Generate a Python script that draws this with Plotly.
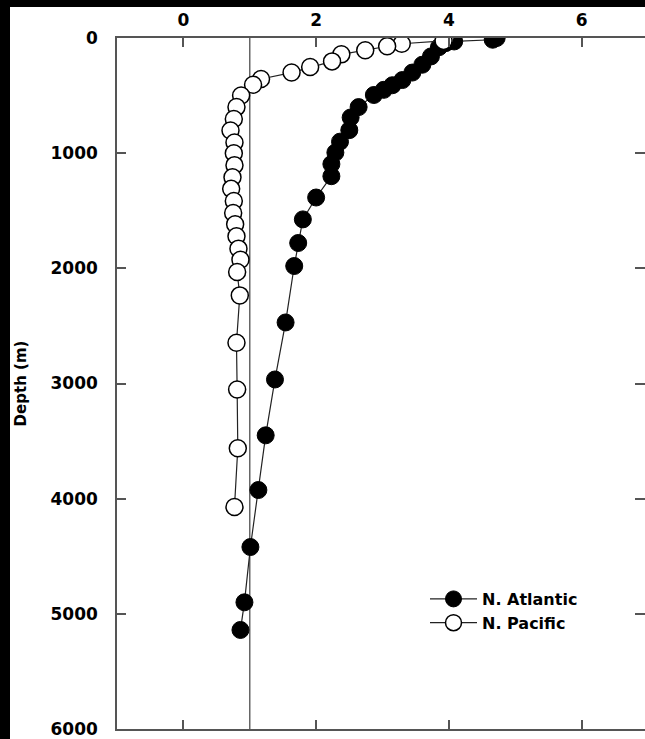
import plotly.graph_objects as go

# N. Atlantic (filled circles)
atl_x = [4.72, 4.66, 4.08, 3.95, 3.85, 3.73, 3.60, 3.45, 3.30, 3.15, 3.02, 2.87,
         2.64, 2.52, 2.50, 2.36, 2.29, 2.23, 2.23, 2.00, 1.80, 1.73, 1.67, 1.54,
         1.38, 1.24, 1.13, 1.01, 0.92, 0.86]
atl_depth = [0, 15, 30, 45, 80, 160, 232, 300, 365, 410, 450, 495,
             600, 690, 800, 900, 995, 1095, 1200, 1385, 1575, 1780, 1980, 2470,
             2965, 3450, 3925, 4420, 4900, 5140]

# N. Pacific (open circles)
pac_x = [3.95, 3.92, 3.29, 3.07, 2.74, 2.38, 2.24, 1.91, 1.63, 1.17, 1.05, 0.87,
         0.80, 0.76, 0.71, 0.77, 0.76, 0.77, 0.74, 0.72, 0.76, 0.75, 0.78, 0.80,
         0.83, 0.86, 0.81, 0.85, 0.80, 0.81, 0.82, 0.77]
pac_depth = [0, 25, 50, 72, 107, 142, 203, 252, 300, 356, 406, 500,
             600, 704, 803, 907, 1000, 1104, 1209, 1310, 1415, 1520, 1617, 1722,
             1829, 1925, 2032, 2235, 2646, 3052, 3562, 4072]

x_ticks = [0, 2, 4, 6]
depth_ticks = [0, 1000, 2000, 3000, 4000, 5000, 6000]
ref_value = 1

W, H = 645, 739
ML, MR, MT, MB = 117, 0, 38, 10
AX = "#555555"
FONT = "DejaVu Sans, Arial, sans-serif"

pw = W - ML - MR
ph = H - MT - MB


def sx(s):
    """screen x pixel -> paper x"""
    return (s - ML) / pw


def sy(s):
    """screen y pixel -> paper y"""
    return (H - MB - s) / ph


fig = go.Figure()
fig.add_trace(go.Scatter(
    x=atl_x, y=atl_depth, name="N. Atlantic", mode="lines+markers",
    line=dict(color="#222222", width=1.2),
    marker=dict(size=17, color="black", line=dict(color="black", width=1)),
))
fig.add_trace(go.Scatter(
    x=pac_x, y=pac_depth, name="N. Pacific", mode="lines+markers",
    line=dict(color="#222222", width=1.2),
    marker=dict(size=17, color="white", line=dict(color="black", width=1.5)),
))
fig.add_trace(go.Scatter(x=[], y=[], xaxis="x2", yaxis="y2", showlegend=False,
                         hoverinfo="skip"))

fig.add_shape(type="line", xref="x", yref="paper", x0=ref_value, x1=ref_value,
              y0=0, y1=1, line=dict(color="#666666", width=1.5), layer="below")

# black border strips (left and top edges of the picture)
fig.add_shape(type="rect", xref="paper", yref="paper", layer="above",
              x0=sx(-5), x1=sx(10), y0=sy(H + 5), y1=sy(-5),
              fillcolor="black", line=dict(width=0))
fig.add_shape(type="rect", xref="paper", yref="paper", layer="above",
              x0=sx(-5), x1=sx(W + 5), y0=sy(7), y1=sy(-5),
              fillcolor="black", line=dict(width=0))

tickfont = dict(family=FONT, size=17, color="black", weight="bold")
xr = [-1, -1 + 8 * (645 - 117) / (648 - 117)]

fig.update_layout(
    width=W, height=H,
    margin=dict(l=ML, r=MR, t=MT, b=MB, autoexpand=False),
    paper_bgcolor="white", plot_bgcolor="white",
    showlegend=True,
    legend=dict(x=sx(425), y=sy(582), xanchor="left", yanchor="top",
                bgcolor="rgba(0,0,0,0)", borderwidth=0, itemwidth=47,
                font=dict(family=FONT, size=16, color="black", weight="bold"),
                tracegroupgap=0),
    xaxis=dict(range=xr, side="top", tickvals=x_ticks, ticks="inside", ticklen=9,
               tickcolor=AX, tickwidth=1.5, showline=True, linecolor=AX,
               linewidth=1.5, showgrid=False, zeroline=False, tickfont=tickfont,
               ticklabelstandoff=3),
    xaxis2=dict(range=xr, overlaying="x", side="bottom", tickvals=x_ticks,
                ticks="inside", ticklen=9, tickcolor=AX, tickwidth=1.5,
                showline=True, linecolor=AX, linewidth=1.5, showgrid=False,
                zeroline=False, showticklabels=False),
    yaxis=dict(range=[6000, 0], tickvals=depth_ticks, ticks="inside", ticklen=9,
               tickcolor=AX, tickwidth=1.5, showline=True, linecolor=AX,
               linewidth=1.5, showgrid=False, zeroline=False, tickfont=tickfont,
               ticklabelstandoff=14,
               title=dict(text="Depth (m)", standoff=20,
                          font=dict(family=FONT, size=15, color="black", weight="bold"))),
    yaxis2=dict(range=[6000, 0], overlaying="y", side="right", tickvals=depth_ticks,
                ticks="inside", ticklen=10, tickcolor=AX, tickwidth=1.5,
                showline=False, showgrid=False, zeroline=False,
                showticklabels=False),
)

fig.write_html("out.html", config={"displayModeBar": False},
               post_script="document.body.style.margin='0';")
